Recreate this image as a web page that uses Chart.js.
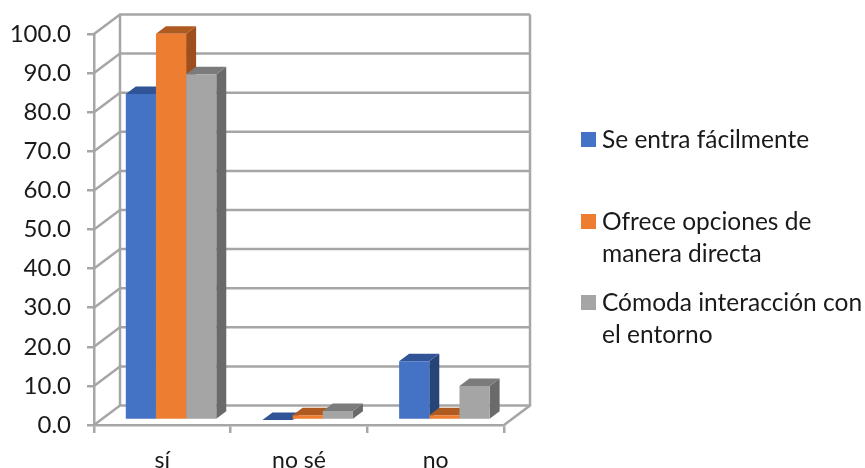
<!DOCTYPE html>
<html>
<head>
<meta charset="utf-8">
<script src="https://cdn.jsdelivr.net/npm/chart.js@4"></script>
<style>
  html, body { margin: 0; padding: 0; background: #fff; }
  #wrap { position: relative; width: 865px; height: 468px; }
  .leg { position: absolute; left: 581px; font: 24.5px/32px Lato, sans-serif; color: #1a1a1a; white-space: pre; }
  .leg i { position: absolute; left: 0; top: 9px; width: 15px; height: 15px; }
  .leg span { display: block; padding-left: 21px; }
</style>
</head>
<body>
<div id="wrap">
  <canvas id="c" width="865" height="468" style="display:block"></canvas>
</div>
<script>
const categories = ["sí", "no sé", "no"];
const seriesNames = [
  ["Se entra fácilmente"],
  ["Ofrece opciones de", "manera directa"],
  ["Cómoda interacción con", "el entorno"],
];
const entra = [83.4, 0, 15];
const ofrece = [98.8, 1.2, 1.2];
const comoda = [88.4, 2.3, 8.7];
const yTicks = [0, 10, 20, 30, 40, 50, 60, 70, 80, 90, 100];

const fronts = ["#4472c4", "#ed7d31", "#a5a5a5"];
const tops = ["#305496", "#ae5a21", "#7b7b7b"];
const sides = ["#264478", "#9e4f1c", "#6a6a6a"];
const legendTops = [123, 205, 286];

const gridColor = "#a6a6a6";
// depth of the box and of the bars, and where the bars sit inside the box
const depth = { x: 26, y: -19.5 };
const barDepth = { x: 10, y: -7.5 };
const barShift = { x: 8.7, y: -5 };

const box3d = {
  id: "box3d",
  beforeDatasetsDraw(chart) {
    const { ctx, chartArea: a, scales } = chart;
    ctx.save();
    ctx.strokeStyle = gridColor;
    ctx.lineWidth = 2.5;
    // side wall + back wall lines
    yTicks.forEach((t) => {
      const y = scales.y.getPixelForValue(t);
      ctx.beginPath();
      ctx.moveTo(a.left, y);
      ctx.lineTo(a.left + depth.x, y + depth.y);
      ctx.lineTo(a.right + depth.x, y + depth.y);
      ctx.stroke();
    });
    ctx.beginPath();
    ctx.moveTo(a.left + depth.x, a.top + depth.y);
    ctx.lineTo(a.left + depth.x, a.bottom + depth.y);
    ctx.moveTo(a.right + depth.x, a.top + depth.y);
    ctx.lineTo(a.right + depth.x, a.bottom + depth.y);
    ctx.lineTo(a.right, a.bottom);
    ctx.stroke();

    // sides and tops of the bars, left to right
    ctx.translate(barShift.x, barShift.y);
    categories.forEach((_, i) => {
      chart.data.datasets.forEach((ds, d) => {
        const bar = chart.getDatasetMeta(d).data[i];
        const l = bar.x - bar.width / 2;
        const r = bar.x + bar.width / 2;
        ctx.fillStyle = sides[d];
        ctx.beginPath();
        ctx.moveTo(r, bar.y);
        ctx.lineTo(r + barDepth.x, bar.y + barDepth.y);
        ctx.lineTo(r + barDepth.x, bar.base + barDepth.y);
        ctx.lineTo(r, bar.base);
        ctx.fill();
        ctx.fillStyle = tops[d];
        ctx.beginPath();
        ctx.moveTo(l, bar.y);
        ctx.lineTo(l + barDepth.x, bar.y + barDepth.y);
        ctx.lineTo(r + barDepth.x, bar.y + barDepth.y);
        ctx.lineTo(r, bar.y);
        ctx.fill();
      });
    });
    // stays translated for the library's own bars, restored after them
  },
  afterDatasetsDraw(chart) {
    chart.ctx.restore();
  },
};

new Chart(document.getElementById("c"), {
  type: "bar",
  data: {
    labels: categories,
    datasets: [
      { label: "Se entra fácilmente", data: entra, backgroundColor: fronts[0] },
      { label: "Ofrece opciones de manera directa", data: ofrece, backgroundColor: fronts[1] },
      { label: "Cómoda interacción con el entorno", data: comoda, backgroundColor: fronts[2] },
    ],
  },
  options: {
    responsive: false,
    animation: false,
    devicePixelRatio: 1,
    barPercentage: 1,
    categoryPercentage: 0.662,
    layout: { padding: { top: 34, right: 361, left: 0, bottom: 0 } },
    plugins: { legend: { display: false }, tooltip: { enabled: false }, title: { display: false } },
    scales: {
      x: {
        afterFit: (s) => { s.height = 43; },
        grid: { drawOnChartArea: false, color: gridColor, lineWidth: 2.5, tickLength: 8 },
        border: { color: gridColor, width: 2.5 },
        ticks: { color: "#1a1a1a", font: { family: "Lato", size: 23 }, padding: 14, maxRotation: 0 },
      },
      y: {
        min: 0,
        max: 100,
        afterFit: (s) => { s.width = 94; },
        afterBuildTicks: (s) => { s.ticks = yTicks.map((v) => ({ value: v })); },
        grid: { drawOnChartArea: false, color: gridColor, lineWidth: 2.5, tickLength: 7 },
        border: { color: gridColor, width: 2.5 },
        ticks: {
          color: "#1a1a1a",
          font: { family: "Lato", size: 24 },
          padding: 16,
          callback: (v) => v.toFixed(1),
        },
      },
    },
  },
  plugins: [box3d],
});

// legend has wrapped lines, so it is built by hand from the series names
const wrap = document.getElementById("wrap");
seriesNames.forEach((lines, d) => {
  const el = document.createElement("div");
  el.className = "leg";
  el.style.top = legendTops[d] + "px";
  const mark = document.createElement("i");
  mark.style.background = fronts[d];
  el.appendChild(mark);
  lines.forEach((line) => {
    const s = document.createElement("span");
    s.textContent = line;
    el.appendChild(s);
  });
  wrap.appendChild(el);
});
</script>
</body>
</html>
